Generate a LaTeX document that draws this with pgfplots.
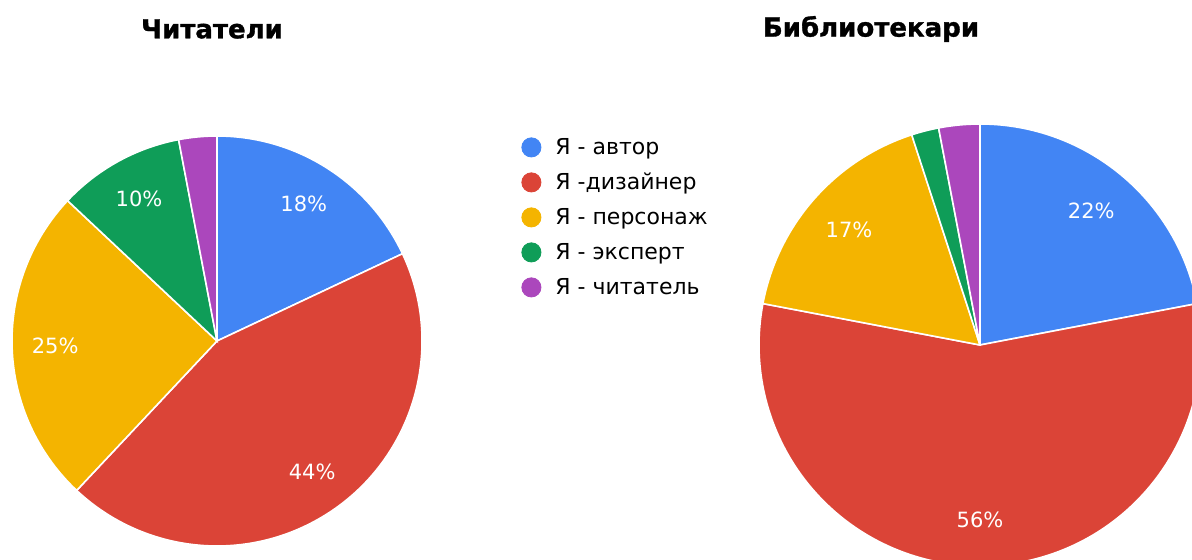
\documentclass[border=0pt]{standalone}
\usepackage{pgfplots}
\usepackage{pgfplotstable}
\pgfplotsset{compat=1.18}
\usepackage{fontspec}
\setmainfont{DejaVu Sans}
\newfontfamily\titlefont{DejaVu Sans}[BoldFeatures={FakeBold=1.2}]

\definecolor{gblue}{HTML}{4285F4}
\definecolor{gred}{HTML}{DB4437}
\definecolor{gyellow}{HTML}{F4B400}
\definecolor{ggreen}{HTML}{0F9D58}
\definecolor{gpurple}{HTML}{AB47BC}

% shares in percent, clockwise from 12 o'clock
\pgfplotstableread{
share col
18 gblue
44 gred
25 gyellow
10 ggreen
3  gpurple
}\readers
\pgfplotstableread{
share col
22 gblue
56 gred
17 gyellow
2  ggreen
3  gpurple
}\librarians

% #1 table, #2 #3 centre (axis units), #4 radius in pt
\newcommand{\pie}[4]{%
  \def\acc{0}%
  \pgfplotsforeachungrouped \i in {0,...,4}{%
    \pgfplotstablegetelem{\i}{share}\of#1\let\v\pgfplotsretval
    \pgfplotstablegetelem{\i}{col}\of#1\let\c\pgfplotsretval
    \pgfmathsetmacro\aa{90-3.6*\acc}%
    \pgfmathsetmacro\ab{90-3.6*(\acc+\v)}%
    \pgfmathsetmacro\am{90-3.6*(\acc+\v/2)}%
    \pgfmathsetmacro\rl{0.79*#4}%
    \pgfmathsetmacro\acc{\acc+\v}%
    \edef\cmd{\noexpand\filldraw[fill=\c, draw=white, line width=0.8pt]
      (axis cs:#2,#3) -- ++(\aa:#4pt) arc[start angle=\aa, end angle=\ab, radius=#4pt] -- cycle;}%
    \cmd
    \ifdim\v pt<5pt\else
      \edef\cmd{\noexpand\node[text=white, font=\noexpand\fontsize{10.5}{12}\noexpand\selectfont]
        at ([shift={(\am:\rl pt)}]axis cs:#2,#3) {\v\noexpand\%};}%
      \cmd
    \fi
  }%
}

\begin{document}
\begin{tikzpicture}
\useasboundingbox (0,0) rectangle (596pt,280pt);
\begin{axis}[
    at={(0,0)}, anchor=south west,
    width=596pt, height=280pt, scale only axis,
    xmin=0, xmax=1192, ymin=0, ymax=560, y dir=reverse,
    hide axis,
    legend style={at={(axis cs:521,137)}, anchor=north west,
      draw=none, fill=none, inner sep=0pt,
      font=\fontsize{11}{13}\selectfont, row sep=6.7pt, column sep=7pt,
      nodes={inner sep=0pt, text height=8pt, text depth=2pt}},
    legend cell align=left,
    legend image code/.code={\fill[#1] (5pt,0.8pt) circle (4.8pt);},
]
\addlegendimage{gblue}
\addlegendentry{Я - автор}
\addlegendimage{gred}
\addlegendentry{Я -дизайнер}
\addlegendimage{gyellow}
\addlegendentry{Я - персонаж}
\addlegendimage{ggreen}
\addlegendentry{Я - эксперт}
\addlegendimage{gpurple}
\addlegendentry{Я - читатель}

\pie{\readers}{217}{341}{102.5}
\pie{\librarians}{980}{345}{110.5}

\node[font=\titlefont\bfseries\fontsize{13}{15}\selectfont] at (axis cs:212,29) {Читатели};
\node[font=\titlefont\bfseries\fontsize{13}{15}\selectfont] at (axis cs:871,29) {Библиотекари};
\end{axis}
\end{tikzpicture}
\end{document}
